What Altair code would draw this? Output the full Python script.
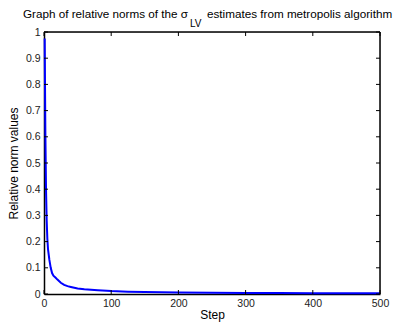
import altair as alt
import pandas as pd

# Relative norm of the sigma_LV estimate at selected metropolis steps
steps = [1, 2, 3, 4, 5, 6, 8, 10, 12, 14, 17, 20, 25, 30, 35, 40, 50, 60, 70, 80,
         100, 125, 150, 200, 250, 300, 350, 400, 450, 500]
norms = [0.975, 0.62, 0.40, 0.28, 0.21, 0.17, 0.13, 0.10, 0.08, 0.07, 0.063, 0.055,
         0.043, 0.035, 0.030, 0.027, 0.021, 0.018, 0.016, 0.014, 0.011, 0.009,
         0.0075, 0.006, 0.005, 0.004, 0.0035, 0.003, 0.0028, 0.0025]

x_ticks = [0, 100, 200, 300, 400, 500]
y_ticks = [0, 0.1, 0.2, 0.3, 0.4, 0.5, 0.6, 0.7, 0.8, 0.9, 1]

W, H = 336, 262
FONT = "Liberation Sans"
AXIS_W = 1.5

df = pd.DataFrame({"step": steps, "norm": norms})
xt = pd.DataFrame({"t": x_ticks})
yt = pd.DataFrame({"t": y_ticks})

xs = alt.Scale(domain=[0, 500], nice=False, zero=False)
ys = alt.Scale(domain=[0, 1], nice=False, zero=False)

common_axis = dict(
    ticks=False, grid=False, labelOverlap=False, labelFlush=False,
    labelFont=FONT, labelFontSize=10.5, labelColor="#222", labelPadding=4,
    titleFont=FONT, titleFontSize=12, titleFontWeight="normal", titleColor="#000",
    domainColor="#000", domainWidth=AXIS_W,
)
x_axis = alt.Axis(values=x_ticks, format="d", title="Step", titlePadding=1, **common_axis)
y_axis = alt.Axis(values=y_ticks, format="~g", title="Relative norm values",
                  titlePadding=5, **common_axis)

line = alt.Chart(df).mark_line(color="#0000ff", strokeWidth=2).encode(
    x=alt.X("step:Q", scale=xs, axis=x_axis, title="Step"),
    y=alt.Y("norm:Q", scale=ys, axis=y_axis, title="Relative norm values"),
)

# Inward tick marks on all four sides of the box
tick_len = 4
y_left = alt.Chart(yt).mark_rule(color="#000").encode(
    y=alt.Y("t:Q", scale=ys, axis=y_axis, title="Relative norm values"),
    x=alt.value(0), x2=alt.value(tick_len))
y_right = alt.Chart(yt).mark_rule(color="#000").encode(
    y=alt.Y("t:Q", scale=ys, axis=y_axis, title="Relative norm values"),
    x=alt.value(W - tick_len), x2=alt.value(W))
x_bottom = alt.Chart(xt).mark_rule(color="#000").encode(
    x=alt.X("t:Q", scale=xs, axis=x_axis, title="Step"),
    y=alt.value(H - tick_len), y2=alt.value(H))
x_top = alt.Chart(xt).mark_rule(color="#000").encode(
    x=alt.X("t:Q", scale=xs, axis=x_axis, title="Step"),
    y=alt.value(0), y2=alt.value(tick_len))

# Top and right edges of the box
box_top = alt.Chart(pd.DataFrame({"e": [0]})).mark_rule(
    color="#000", strokeWidth=AXIS_W
).encode(x=alt.value(0), x2=alt.value(W), y=alt.value(0))
box_right = alt.Chart(pd.DataFrame({"e": [0]})).mark_rule(
    color="#000", strokeWidth=AXIS_W
).encode(x=alt.value(W), y=alt.value(0), y2=alt.value(H))

# Title with the subscripted sigma_LV
TFS = 11.7
title_main = alt.Chart(pd.DataFrame({"s": ["Graph of relative norms of the σ"]})).mark_text(
    font=FONT, fontSize=TFS, align="right", baseline="alphabetic", color="#000"
).encode(text="s:N", x=alt.value(144), y=alt.value(-14))
title_sub = alt.Chart(pd.DataFrame({"s": ["LV"]})).mark_text(
    font=FONT, fontSize=10, align="left", baseline="alphabetic", color="#000"
).encode(text="s:N", x=alt.value(146), y=alt.value(-5))
title_rest = alt.Chart(pd.DataFrame({"s": ["estimates from metropolis algorithm"]})).mark_text(
    font=FONT, fontSize=TFS, align="left", baseline="alphabetic", color="#000"
).encode(text="s:N", x=alt.value(163), y=alt.value(-14))

chart = alt.layer(
    line, y_left, y_right, x_bottom, x_top, box_top, box_right,
    title_main, title_sub, title_rest
).properties(
    width=W, height=H,
    autosize=alt.AutoSizeParams(type="none"),
    padding={"left": 44, "top": 32, "right": 24, "bottom": 30},
).configure_view(stroke="#000", strokeWidth=AXIS_W).configure(background="white")

chart.save("out.html", embed_options={"renderer": "svg", "actions": False})
